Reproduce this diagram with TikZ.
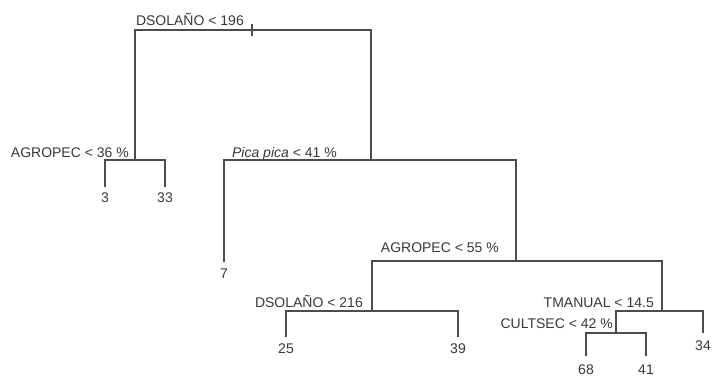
\documentclass[tikz,border=0pt]{standalone}
\usepackage{fontspec}
\setmainfont{Liberation Sans}
\usepackage{tikz}
\usetikzlibrary{positioning, calc}
\definecolor{TreeGray}{rgb}{0.30, 0.30, 0.30}
\definecolor{LabelGray}{rgb}{0.22, 0.22, 0.22}

\tikzset{
  branch/.style={draw=TreeGray, line width=1.1pt},
  splitlab/.style={anchor=base east, inner sep=0pt, text=LabelGray},
  leaf/.style={anchor=base, inner xsep=0pt, inner ysep=6pt, text=LabelGray}
}

\begin{document}
\begin{tikzpicture}[x=1pt, y=-1pt, font=\fontsize{14}{16}\selectfont]
        \useasboundingbox (0,0) rectangle (712,376);

        % Split points
        \coordinate (root) at (252,30);
        \coordinate (agro36) at (135,160);
        \coordinate (pica) at (371,160);
        \coordinate (agro55) at (516,261);
        \coordinate (dsol216) at (372,311);
        \coordinate (tman) at (662,311);
        \coordinate (cult) at (616,333);

        % Split labels
        \node [splitlab] (rootlab) at (244,25) {DSOLAÑO < 196};
        \node [splitlab] (agro36lab) at (129,157) {AGROPEC < 36 \%};
        \node [splitlab] (picalab) at (337,157) {\textit{Pica pica} < 41 \%};
        \node [splitlab] (agro55lab) at (499,252) {AGROPEC < 55 \%};
        \node [splitlab] (dsol216lab) at (363,307) {DSOLAÑO < 216};
        \node [splitlab] (tmanlab) at (654,307) {TMANUAL < 14.5};
        \node [splitlab] (cultlab) at (613,328) {CULTSEC < 42 \%};

        % Leaves
        \node [leaf, inner ysep=5pt] (l3) at (105,202) {3};
        \node [leaf, inner ysep=5pt] (l33) at (165,202) {33};
        \node [leaf] (l7) at (224,278) {7};
        \node [leaf] (l25) at (286,353) {25};
        \node [leaf] (l39) at (458,353) {39};
        \node [leaf, inner ysep=7pt] (l34) at (703,350) {34};
        \node [leaf, inner ysep=8pt] (l68) at (586,374) {68};
        \node [leaf, inner ysep=8pt] (l41) at (646,374) {41};

        % Branches
        \draw [branch] (agro36) |- (root) -| (pica);
        \draw [branch] (root) ++(0,-6) -- ++(0,12);
        \draw [branch] (l3) |- (agro36) -| (l33);
        \draw [branch] (l7) |- (pica) -| (agro55);
        \draw [branch] (dsol216) |- (agro55) -| (tman);
        \draw [branch] (l25) |- (dsol216) -| (l39);
        \draw [branch] (cult) |- (tman) -| (l34);
        \draw [branch] (l68) |- (cult) -| (l41);
    \end{tikzpicture}
\end{document}
